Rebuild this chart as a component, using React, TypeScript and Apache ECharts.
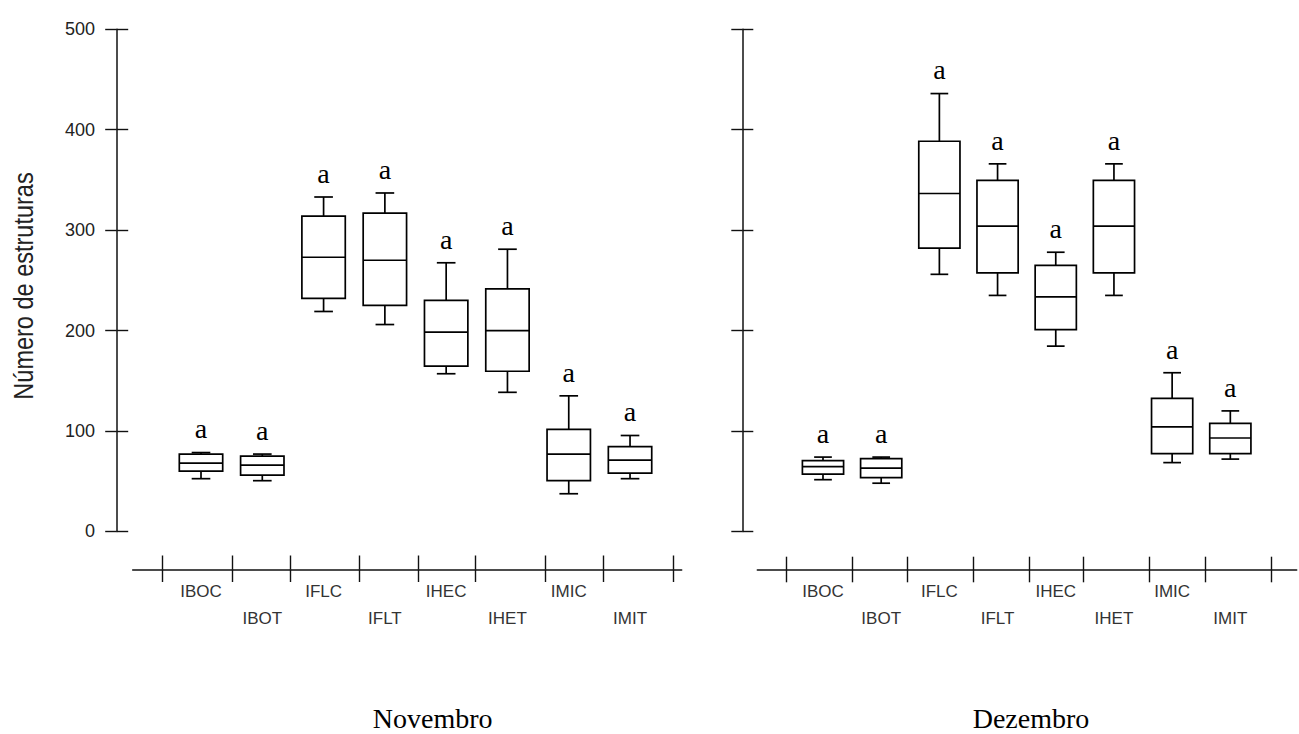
import React, { useEffect, useRef } from "react";
import * as echarts from "echarts";

// ---------- data ----------
const categories = ["IBOC", "IBOT", "IFLC", "IFLT", "IHEC", "IHET", "IMIC", "IMIT"];

const novMin = [52.5, 50.5, 219, 206, 157, 138.5, 37.5, 52.5];
const novQ1 = [60, 56, 232, 225, 164.5, 159.5, 50.5, 58];
const novMed = [68, 66, 273, 270, 198.5, 200, 77, 71];
const novQ3 = [77, 75, 314, 317, 230, 241.5, 101.5, 84.5];
const novMax = [78.5, 77, 333, 337, 267.5, 281, 135, 95.5];
const novLetters = ["a", "a", "a", "a", "a", "a", "a", "a"];

const dezMin = [51.5, 48, 256, 235, 184.5, 235, 68.5, 72];
const dezQ1 = [57, 53.5, 282, 257.5, 201, 257.5, 77.5, 77.5];
const dezMed = [64.5, 63, 336.5, 304, 233.5, 304, 104, 93];
const dezQ3 = [70.5, 72.5, 388.5, 349.5, 265, 349.5, 132.5, 107.5];
const dezMax = [74, 74, 436, 366, 278, 366, 158, 120];
const dezLetters = ["a", "a", "a", "a", "a", "a", "a", "a"];

const yMin = 0;
const yMax = 500;
const yStep = 100;
// x-axis tick positions in category units (band boundaries of the original plot)
const xTickPositions = [-0.13, 1.01, 1.955, 3.09, 4.04, 4.98, 6.115, 7.07, 8.2];

const panelTitles = ["Novembro", "Dezembro"];
const yTitle = "Número de estruturas";

// ---------- layout ----------
const W = 1299;
const H = 734;
const plotTop = 29.3; // px of yMax
const plotBottom = 531.4; // px of yMin
const pxPerUnit = (plotBottom - plotTop) / (yMax - yMin);

const panels = [
  {
    min: novMin, q1: novQ1, med: novMed, q3: novQ3, max: novMax, letters: novLetters,
    gridLeft: 170.36, band: 61.29, lineLeft: 132.7, lineRight: 681.7,
    yAxisX: 116.7, xAxisY: 569.5, yLineTop: 10, yLineBottom: 548,
    yTick: 11.5, xTickUp: 14, xTickDown: 12.5, showYLabels: true,
    titleX: 432.7,
  },
  {
    min: dezMin, q1: dezQ1, med: dezMed, q3: dezQ3, max: dezMax, letters: dezLetters,
    gridLeft: 793.9, band: 58.19, lineLeft: 757.3, lineRight: 1296.7,
    yAxisX: 742.3, xAxisY: 570, yLineTop: 10.7, yLineBottom: 550,
    yTick: 11, xTickUp: 13.3, xTickDown: 12.3, showYLabels: false,
    titleX: 1031,
  },
];

const INK = "#111";
const serif = '"Liberation Serif", "Times New Roman", serif';
const sans = '"Liberation Sans", Arial, sans-serif';

function buildOption() {
  const grid: any[] = [];
  const xAxis: any[] = [];
  const yAxis: any[] = [];
  const series: any[] = [];
  const graphic: any[] = [];

  panels.forEach((p, pi) => {
    const gMain = grid.length;
    grid.push({
      left: p.gridLeft,
      top: plotTop,
      width: p.band * categories.length,
      height: plotBottom - plotTop,
      containLabel: false,
    });
    const gLine = grid.length;
    grid.push({
      left: p.lineLeft,
      top: plotTop,
      width: p.lineRight - p.lineLeft,
      height: plotBottom - plotTop,
      containLabel: false,
    });

    const xOffset = p.xAxisY - plotBottom;
    const yOffset = p.gridLeft - p.yAxisX;

    // category axis (labels only)
    const xCat = xAxis.length;
    xAxis.push({
      type: "category",
      gridIndex: gMain,
      data: categories,
      position: "bottom",
      offset: xOffset,
      axisLine: { show: false, onZero: false },
      axisTick: { show: false },
      splitLine: { show: false },
      axisLabel: {
        interval: 0,
        margin: 8,
        color: "#333",
        fontFamily: sans,
        fontSize: 17,
        lineHeight: 27,
        formatter: (v: string, i: number) => (i % 2 ? "\n" + v : v),
      },
    });

    const vMin = (p.lineLeft - p.gridLeft) / p.band;
    const vMax = (p.lineRight - p.gridLeft) / p.band;
    // visible x axis line with outward ticks
    xAxis.push({
      type: "value",
      gridIndex: gLine,
      position: "bottom",
      offset: xOffset,
      min: vMin,
      max: vMax,
      axisLine: { show: true, onZero: false, lineStyle: { color: INK, width: 1.5 } },
      axisTick: { show: true, length: p.xTickDown, customValues: xTickPositions, lineStyle: { color: INK, width: 1.4 } },
      axisLabel: { show: false },
      splitLine: { show: false },
    });
    // inward ticks
    xAxis.push({
      type: "value",
      gridIndex: gLine,
      position: "bottom",
      offset: xOffset,
      min: vMin,
      max: vMax,
      axisLine: { show: false, onZero: false },
      axisTick: { show: true, inside: true, length: p.xTickUp, customValues: xTickPositions, lineStyle: { color: INK, width: 1.4 } },
      axisLabel: { show: false },
      splitLine: { show: false },
    });

    const yMain = yAxis.length;
    yAxis.push({
      type: "value",
      gridIndex: gMain,
      position: "left",
      offset: yOffset,
      min: yMin,
      max: yMax,
      interval: yStep,
      axisLine: { show: false, onZero: false },
      axisTick: { show: true, length: p.yTick, lineStyle: { color: INK, width: 1.4 } },
      axisLabel: {
        show: p.showYLabels,
        margin: p.yAxisX - 95,
        color: "#222",
        fontFamily: sans,
        fontSize: 18,
      },
      splitLine: { show: false },
    });
    yAxis.push({
      type: "value",
      gridIndex: gMain,
      position: "left",
      offset: yOffset,
      min: yMin,
      max: yMax,
      interval: yStep,
      axisLine: { show: false, onZero: false },
      axisTick: { show: true, inside: true, length: p.yTick, lineStyle: { color: INK, width: 1.4 } },
      axisLabel: { show: false },
      splitLine: { show: false },
    });
    yAxis.push({
      type: "value",
      gridIndex: gMain,
      position: "left",
      offset: yOffset,
      min: yMin - (p.yLineBottom - plotBottom) / pxPerUnit,
      max: yMax + (plotTop - p.yLineTop) / pxPerUnit,
      axisLine: { show: true, onZero: false, lineStyle: { color: INK, width: 1.5 } },
      axisTick: { show: false },
      axisLabel: { show: false },
      splitLine: { show: false },
    });
    yAxis.push({
      type: "value",
      gridIndex: gLine,
      show: false,
      min: 0,
      max: 1,
      splitLine: { show: false },
    });

    const data = categories.map((c, i) => [i, p.min[i], p.q1[i], p.med[i], p.q3[i], p.max[i]]);
    const letters = p.letters;
    series.push({
      type: "custom",
      name: panelTitles[pi],
      xAxisIndex: xCat,
      yAxisIndex: yMain,
      encode: { x: 0, y: [1, 2, 3, 4, 5] },
      data,
      renderItem: (params: any, api: any) => {
        const idx = api.value(0);
        const lo = api.coord([idx, api.value(1)]);
        const q1 = api.coord([idx, api.value(2)]);
        const md = api.coord([idx, api.value(3)]);
        const q3 = api.coord([idx, api.value(4)]);
        const hi = api.coord([idx, api.value(5)]);
        const band = api.size([1, 0])[0];
        const bw = band * 0.708;
        const cw = bw * 0.43;
        const cx = lo[0];
        const st = { stroke: "#000", lineWidth: 1.7, fill: null };
        return {
          type: "group",
          children: [
            { type: "line", shape: { x1: cx, y1: q3[1], x2: cx, y2: hi[1] }, style: st },
            { type: "line", shape: { x1: cx, y1: q1[1], x2: cx, y2: lo[1] }, style: st },
            { type: "line", shape: { x1: cx - cw / 2, y1: hi[1], x2: cx + cw / 2, y2: hi[1] }, style: st },
            { type: "line", shape: { x1: cx - cw / 2, y1: lo[1], x2: cx + cw / 2, y2: lo[1] }, style: st },
            {
              type: "rect",
              shape: { x: cx - bw / 2, y: q3[1], width: bw, height: q1[1] - q3[1] },
              style: { stroke: "#000", lineWidth: 1.7, fill: "#fff" },
            },
            { type: "line", shape: { x1: cx - bw / 2, y1: md[1], x2: cx + bw / 2, y2: md[1] }, style: st },
            {
              type: "text",
              style: {
                text: letters[params.dataIndex],
                x: cx,
                y: hi[1] - 23.7,
                align: "center",
                verticalAlign: "middle",
                font: "28px " + serif,
                fill: "#000",
              },
            },
          ],
        };
      },
    });

    graphic.push({
      type: "text",
      x: p.titleX,
      y: 718.5,
      style: {
        text: panelTitles[pi],
        font: "28px " + serif,
        fill: "#000",
        align: "center",
        verticalAlign: "middle",
      },
    });
  });

  graphic.push({
    type: "text",
    x: 23.3,
    y: 286,
    rotation: Math.PI / 2,
    scaleX: 0.84,
    style: {
      text: yTitle,
      font: "28px " + sans,
      fill: "#222",
      align: "center",
      verticalAlign: "middle",
    },
  });

  return {
    animation: false,
    backgroundColor: "#fff",
    grid,
    xAxis,
    yAxis,
    series,
    graphic,
  };
}

export default function App() {
  const ref = useRef<HTMLDivElement>(null);
  useEffect(() => {
    document.body.style.margin = "0";
    if (!ref.current) return;
    const chart = echarts.init(ref.current, null, { renderer: "svg" });
    chart.setOption(buildOption() as any);
    return () => chart.dispose();
  }, []);
  return <div ref={ref} style={{ width: W, height: H }} />;
}
